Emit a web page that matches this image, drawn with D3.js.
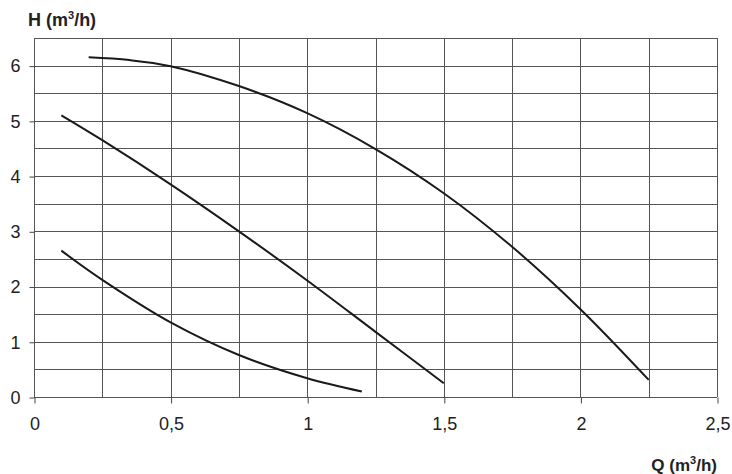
<!DOCTYPE html>
<html>
<head>
<meta charset="utf-8">
<script src="https://cdn.jsdelivr.net/npm/d3@7"></script>
<style>
  body { margin: 0; background: #fff; }
  svg { display: block; font-family: "Liberation Sans", Arial, sans-serif; }
</style>
</head>
<body>
<script>
const width = 732;
const height = 474;
const margin = { top: 38, right: 15, bottom: 77, left: 34 };

// pump curves: flow Q (m3/h) and head H
const qHigh = [0.2, 0.35, 0.5, 0.75, 1.0, 1.25, 1.5, 1.75, 2.0, 2.25];
const hHigh = [6.15, 6.10, 5.99, 5.63, 5.14, 4.49, 3.69, 2.72, 1.59, 0.31];
const qMid = [0.1, 0.25, 0.5, 0.75, 1.0, 1.25, 1.5];
const hMid = [5.1, 4.65, 3.85, 3.0, 2.11, 1.18, 0.25];
const qLow = [0.1, 0.25, 0.5, 0.75, 1.0, 1.2];
const hLow = [2.65, 2.12, 1.35, 0.76, 0.34, 0.10];

const xTicks = [0, 0.5, 1, 1.5, 2, 2.5];
const yTicks = [0, 1, 2, 3, 4, 5, 6];
const xGrid = d3.range(0, 2.5001, 0.25);
const yGrid = d3.range(0, 6.5001, 0.5);

const series = [[qHigh, hHigh], [qMid, hMid], [qLow, hLow]]
  .map(([q, h]) => q.map((v, i) => ({ q: v, h: h[i] })));

const svg = d3.select('body').append('svg')
  .attr('width', width)
  .attr('height', height);

const x = d3.scaleLinear()
  .domain([0, 2.5])
  .range([margin.left, width - margin.right]);

const y = d3.scaleLinear()
  .domain([0, 6.5])
  .range([height - margin.bottom, margin.top]);

// grid
svg.append('g')
  .selectAll('line')
  .data(xGrid)
  .join('line')
  .attr('x1', d => Math.round(x(d)) + 0.5)
  .attr('x2', d => Math.round(x(d)) + 0.5)
  .attr('y1', y(0))
  .attr('y2', y(6.5))
  .attr('stroke', '#555');

svg.append('g')
  .selectAll('line')
  .data(yGrid)
  .join('line')
  .attr('y1', d => Math.round(y(d)) + 0.5)
  .attr('y2', d => Math.round(y(d)) + 0.5)
  .attr('x1', x(0))
  .attr('x2', x(2.5))
  .attr('stroke', '#555');

// axes
const xAxis = d3.axisBottom(x)
  .tickValues(xTicks)
  .tickSize(6)
  .tickPadding(14)
  .tickFormat(d => String(d).replace('.', ','));

const yAxis = d3.axisLeft(y)
  .tickValues(yTicks)
  .tickSize(5)
  .tickPadding(9)
  .tickFormat(d => d);

const gx = svg.append('g')
  .attr('transform', `translate(0.5, ${Math.round(y(0)) + 0.5})`)
  .call(xAxis);

const gy = svg.append('g')
  .attr('transform', `translate(${Math.round(x(0)) + 0.5}, 0.5)`)
  .call(yAxis);

[gx, gy].forEach(g => {
  g.select('.domain').remove();
  g.selectAll('line').attr('stroke', '#444');
  g.selectAll('text')
    .attr('fill', '#222')
    .style('font-size', '18px')
    .style('font-family', '"Liberation Sans", Arial, sans-serif');
});

// curves
const line = d3.line()
  .x(d => x(d.q))
  .y(d => y(d.h))
  .curve(d3.curveCatmullRom.alpha(0.5));

svg.append('g')
  .selectAll('path')
  .data(series)
  .join('path')
  .attr('d', line)
  .attr('fill', 'none')
  .attr('stroke', '#1a1a1a')
  .attr('stroke-width', 2);

// axis titles
const hTitle = svg.append('text')
  .attr('x', 28)
  .attr('y', 26)
  .attr('fill', '#222')
  .style('font-size', '18px')
  .style('font-weight', 'bold');
hTitle.append('tspan').text('H (m');
hTitle.append('tspan').attr('dy', -7).style('font-size', '11px').text('3');
hTitle.append('tspan').attr('dy', 7).text('/h)');

const qTitle = svg.append('text')
  .attr('x', 717)
  .attr('y', 471)
  .attr('text-anchor', 'end')
  .attr('fill', '#222')
  .style('font-size', '17px')
  .style('font-weight', 'bold');
qTitle.append('tspan').text('Q (m');
qTitle.append('tspan').attr('dy', -7).style('font-size', '11px').text('3');
qTitle.append('tspan').attr('dy', 7).text('/h)');
</script>
</body>
</html>
